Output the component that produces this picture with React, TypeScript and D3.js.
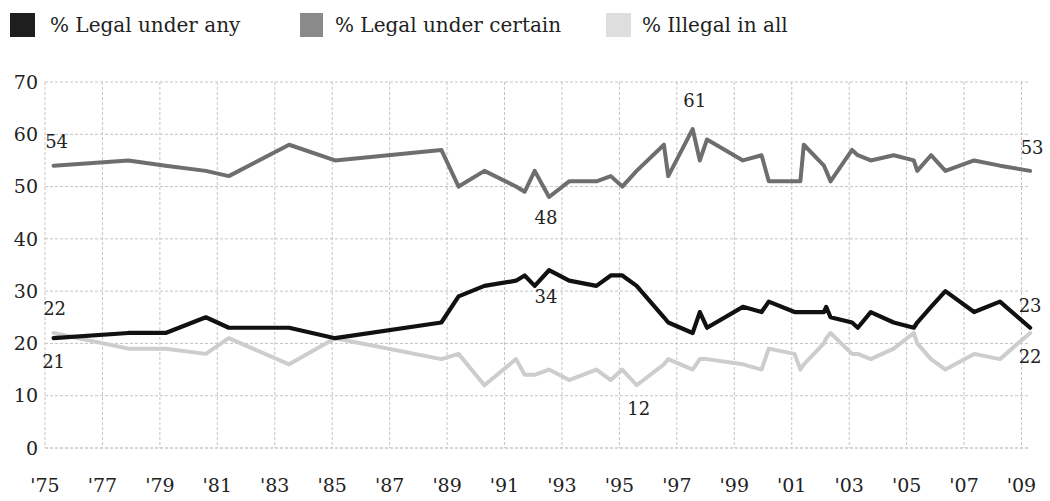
import React from "react";
import * as d3 from "d3";

const seriesNames = ["% Legal under any", "% Legal under certain", "% Illegal in all"];

const pollYears = [
  1975.3, 1977.9, 1979.2, 1980.6, 1981.4, 1983.5, 1985.1, 1988.8, 1989.4, 1990.3,
  1991.4, 1991.7, 1992.05, 1992.55, 1993.25, 1994.2, 1994.7, 1995.1, 1995.6, 1996.55,
  1996.7, 1997.55, 1997.8, 1998.05, 1999.3, 1999.95, 2000.2, 2001.1, 2001.3, 2001.42,
  2002.12, 2002.2, 2002.35, 2003.1, 2003.3, 2003.75, 2004.55, 2005.25, 2005.37, 2005.85,
  2006.35, 2007.35, 2008.25, 2009.3,
];

const legalAny = [
  21, 22, 22, 25, 23, 23, 21, 24, 29, 31,
  32, 33, 31, 34, 32, 31, 33, 33, 31, 25,
  24, 22, 26, 23, 27, 26, 28, 26, 26, 26,
  26, 27, 25, 24, 23, 26, 24, 23, 24, 27,
  30, 26, 28, 23,
];

const legalCertain = [
  54, 55, 54, 53, 52, 58, 55, 57, 50, 53,
  50, 49, 53, 48, 51, 51, 52, 50, 53, 58,
  52, 61, 55, 59, 55, 56, 51, 51, 51, 58,
  54, 53, 51, 57, 56, 55, 56, 55, 53, 56,
  53, 55, 54, 53,
];

const illegalAll = [
  22, 19, 19, 18, 21, 16, 21, 17, 18, 12,
  17, 14, 14, 15, 13, 15, 13, 15, 12, 16,
  17, 15, 17, 17, 16, 15, 19, 18, 15, 16,
  20, 21, 22, 18, 18, 17, 19, 22, 20, 17,
  15, 18, 17, 22,
];

const xTickYears = d3.range(1975, 2010, 2);
const xTickLabels = xTickYears.map((y) => "'" + String(y).slice(2));
const yTicks = [0, 10, 20, 30, 40, 50, 60, 70];

// annotations: year and value they are attached to
const annoYears = [1975.3, 1975.3, 1975.3, 1992.55, 1997.55, 1992.55, 1995.6, 2009.3, 2009.3, 2009.3];
const annoValues = [54, 22, 21, 48, 61, 34, 12, 53, 23, 22];

const W = 1050;
const H = 501;
const FONT = "'DejaVu Serif', Georgia, serif";

export default function App() {
  const x = d3.scaleLinear().domain([1975, 2009]).range([45, 1021.5]);
  const y = d3.scaleLinear().domain([0, 70]).range([448, 82]);
  const plotRight = 1030;

  const line = d3
    .line<number>()
    .x((_, i) => x(pollYears[i]))
    .y((d) => y(d));

  const series = [
    { values: legalAny, color: "#111111", sw: 4.2 },
    { values: legalCertain, color: "#6e6e6e", sw: 4 },
    { values: illegalAll, color: "#cdcdcd", sw: 4 },
  ];

  const legendItems = [
    { x: 10, w: 25, tx: 50, color: "#1e1e1e" },
    { x: 300, w: 23, tx: 335, color: "#8a8a8a" },
    { x: 606, w: 25, tx: 642, color: "#dedede" },
  ];

  const annoOffsets: [number, number][] = [
    [3, -24],
    [1, -24],
    [0, 23],
    [-3, 21],
    [2, -28],
    [-3, 26],
    [2, 23],
    [2, -23],
    [0, -22],
    [0, 24],
  ];

  return (
    <svg
      width={W}
      height={H}
      style={{ position: "absolute", left: 0, top: 0, background: "#fff" }}
      fontFamily={FONT}
    >
      <rect x={0} y={0} width={W} height={H} fill="#fff" />
      {legendItems.map((it, i) => (
        <g key={i}>
          <rect x={it.x} y={13} width={it.w} height={24} fill={it.color} />
          <text x={it.tx} y={32} fontSize={20} fill="#222">
            {seriesNames[i]}
          </text>
        </g>
      ))}
      {yTicks.map((t) => (
        <line
          key={"h" + t}
          x1={x(1975)}
          x2={plotRight}
          y1={y(t)}
          y2={y(t)}
          stroke={t === 0 ? "#aaa" : "#c4c4c4"}
          strokeWidth={1}
          strokeDasharray="3,2"
        />
      ))}
      {xTickYears.map((t) => (
        <line
          key={"v" + t}
          x1={x(t)}
          x2={x(t)}
          y1={y(70)}
          y2={y(0)}
          stroke="#c4c4c4"
          strokeWidth={1}
          strokeDasharray="3,2"
        />
      ))}
      {yTicks.map((t) => (
        <text
          key={"yl" + t}
          x={38}
          y={y(t)}
          dy="0.35em"
          textAnchor="end"
          fontSize={19}
          fill="#222"
        >
          {t}
        </text>
      ))}
      {xTickYears.map((t, i) => (
        <text
          key={"xl" + t}
          x={x(t)}
          y={492}
          textAnchor="middle"
          fontSize={19}
          fill="#222"
        >
          {xTickLabels[i]}
        </text>
      ))}
      {[2, 1, 0].map((k) => (
        <path
          key={"s" + k}
          d={line(series[k].values) || ""}
          fill="none"
          stroke={series[k].color}
          strokeWidth={series[k].sw}
          strokeLinejoin="round"
          strokeLinecap="round"
        />
      ))}
      {annoYears.map((yr, i) => (
        <text
          key={"a" + i}
          x={x(yr) + annoOffsets[i][0]}
          y={y(annoValues[i]) + annoOffsets[i][1]}
          dy="0.35em"
          textAnchor="middle"
          fontSize={18}
          fill="#222"
        >
          {annoValues[i]}
        </text>
      ))}
    </svg>
  );
}
